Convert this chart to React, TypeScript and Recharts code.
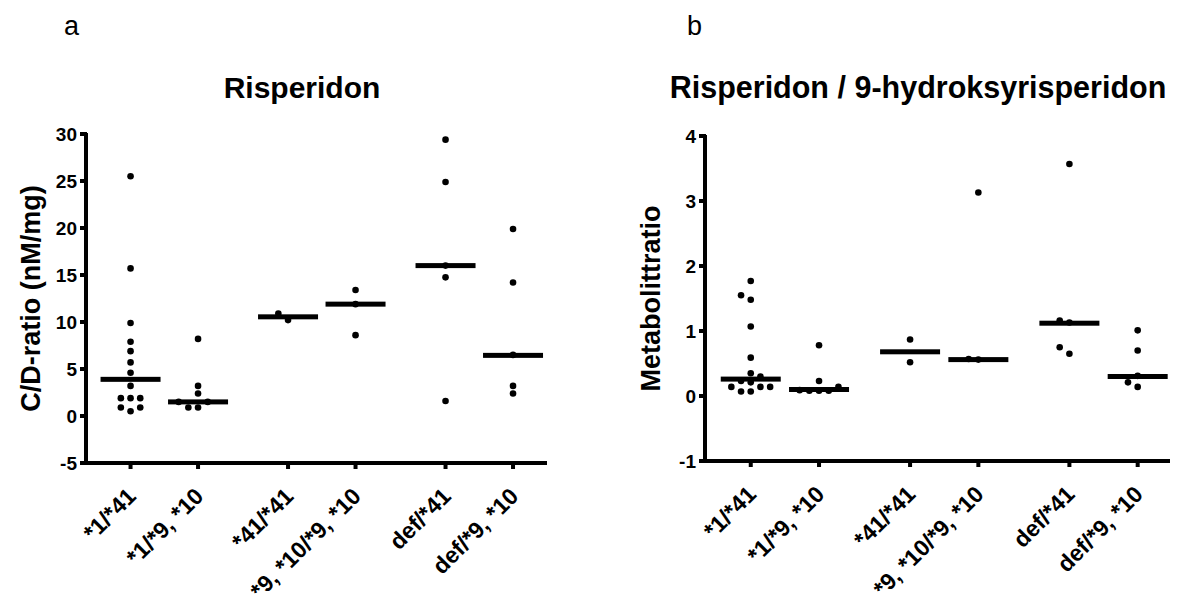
import React from 'react';
import { ScatterChart, Scatter, XAxis, YAxis, ReferenceLine } from 'recharts';

// ---------- data ----------
const groups = ['*1/*41', '*1/*9, *10', '*41/*41', '*9, *10/*9, *10', 'def/*41', 'def/*9, *10'];

// Risperidon C/D-ratio (nM/mg)
const rispG1 = [25.5, 15.7, 9.9, 7.9, 6.9, 5.7, 4.6, 3.2, 1.9, 1.9, 1.9, 0.9, 0.9, 0.5];
const rispG2 = [8.2, 3.2, 2.4, 1.5, 1.5, 0.9, 0.9];
const rispG3 = [10.9, 10.2];
const rispG4 = [13.4, 11.9, 8.6];
const rispG5 = [29.4, 24.9, 16.0, 14.75, 1.6];
const rispG6 = [19.9, 14.2, 6.5, 3.2, 2.4];
const rispMedians = [3.9, 1.5, 10.55, 11.9, 16.0, 6.45];
const rispTicks = [-5, 0, 5, 10, 15, 20, 25, 30];

// Risperidon / 9-hydroksyrisperidon metabolite ratio
const metG1 = [1.77, 1.55, 1.48, 1.07, 0.59, 0.35, 0.30, 0.23, 0.21, 0.14, 0.14, 0.14, 0.07, 0.07];
const metG2 = [0.78, 0.23, 0.14, 0.09, 0.08, 0.08, 0.08];
const metG3 = [0.87, 0.52];
const metG4 = [3.13, 0.57, 0.56];
const metG5 = [3.57, 1.16, 1.13, 0.75, 0.65];
const metG6 = [1.01, 0.70, 0.31, 0.21, 0.14];
const metMedians = [0.26, 0.10, 0.68, 0.56, 1.12, 0.30];
const metTicks = [-1, 0, 1, 2, 3, 4];

// ---------- layout ----------
const FONT = '"Liberation Sans", Arial, Helvetica, sans-serif';
const groupPos = groups.map((_, i) => i + 1 + Math.floor(i / 2) / 3);
const DOT_R = 3.3;
const STEP = 9.7;
const X_ANGLE = -45;
const TICK_SIZE = 6;
const TICK_MARGIN = 2;
const LINE_W = 4;

function swarm(groupsVals: number[][], pxPerX: number, pxPerY: number) {
  const out: { x: number; y: number }[] = [];
  const order = [0, -1, 1, -2, 2, -3, 3];
  groupsVals.forEach((vals, gi) => {
    const placed: { px: number; py: number }[] = [];
    const sorted = [...vals].sort((a, b) => a - b);
    sorted.forEach((v) => {
      const py = v * pxPerY;
      for (const k of order) {
        const px = k * STEP;
        const hit = placed.some((p) => Math.hypot(p.px - px, p.py - py) < DOT_R * 2 + 0.2);
        if (!hit) {
          placed.push({ px, py });
          out.push({ x: groupPos[gi] + px / pxPerX, y: v });
          break;
        }
      }
    });
  });
  return out;
}

const Dot = (p: any) => <circle cx={p.cx} cy={p.cy} r={DOT_R} fill="#000" />;
const MedianBar = (p: any) => <rect x={p.cx - 30} y={p.cy - 2.5} width={60} height={5} fill="#000" />;

const YTick = (p: any) => (
  <g>
    <rect x={p.x + TICK_MARGIN} y={p.y - LINE_W / 2} width={TICK_SIZE + 1} height={LINE_W} fill="#000" />
    <text x={p.x - 1} y={p.y} dy="0.36em" textAnchor="end" fontFamily={FONT} fontWeight="bold" fontSize={19} fill="#000">
      {p.payload.value}
    </text>
  </g>
);

const XTick = (p: any) => {
  const idx = groupPos.findIndex((g) => Math.abs(g - p.payload.value) < 1e-6);
  return (
    <g>
      <rect x={p.x - LINE_W / 2} y={p.y - TICK_MARGIN - TICK_SIZE - 1} width={LINE_W} height={TICK_SIZE + 1} fill="#000" />
      <g transform={`translate(${p.x - 5},${p.y + 15})`}>
        <text x={0} y={0} dy="0.72em" transform={`rotate(${X_ANGLE})`} textAnchor="end" fontFamily={FONT} fontWeight="bold" fontSize={23} fill="#000">
          {idx >= 0 ? groups[idx] : ''}
        </text>
      </g>
    </g>
  );
};

// axis line drawn as a filled rectangle along the reference line's end points
const AxisBar = (p: any) => {
  const x1 = Number(p.x1), x2 = Number(p.x2), y1 = Number(p.y1), y2 = Number(p.y2);
  if (![x1, x2, y1, y2].every((v) => Number.isFinite(v))) return <g />;
  const x = Math.min(x1, x2);
  const y = Math.min(y1, y2);
  const w = Math.abs(x2 - x1);
  const h = Math.abs(y2 - y1);
  if (w < 1) {
    return <rect x={x - LINE_W / 2} y={y - 1} width={LINE_W} height={h + LINE_W / 2 + 1} fill="#000" />;
  }
  return <rect x={x - LINE_W / 2} y={y - LINE_W / 2} width={w + LINE_W / 2} height={LINE_W} fill="#000" />;
};

type PanelProps = {
  left: number;
  axisX: number;
  right: number;
  top: number;
  bottom: number;
  xDomain: [number, number];
  yDomain: [number, number];
  yTicks: number[];
  vals: number[][];
  medians: number[];
  yLabel: string;
  yLabelX: number;
};

function Panel(props: PanelProps) {
  const w = 596;
  const h = 605;
  const yAxisW = 60;
  const xAxisH = 100;
  const localAxis = props.axisX - props.left;
  const localRight = props.right - props.left;
  const margin = {
    top: props.top,
    left: localAxis - yAxisW,
    right: w - localRight,
    bottom: h - props.bottom - xAxisH,
  };
  const pxPerX = (localRight - localAxis) / (props.xDomain[1] - props.xDomain[0]);
  const pxPerY = (props.bottom - props.top) / (props.yDomain[1] - props.yDomain[0]);
  const dots = swarm(props.vals, pxPerX, pxPerY);
  const medData = props.medians.map((m, i) => ({ x: groupPos[i], y: m }));
  const cy = (props.top + props.bottom) / 2;
  return (
    <div style={{ position: 'absolute', left: props.left, top: 0, width: w, height: h }}>
      <ScatterChart width={w} height={h} margin={margin}>
        <XAxis
          type="number"
          dataKey="x"
          domain={props.xDomain}
          allowDataOverflow
          ticks={groupPos}
          interval={0}
          height={xAxisH}
          axisLine={false}
          tickLine={false}
          tickSize={TICK_SIZE}
          tickMargin={TICK_MARGIN}
          tick={<XTick />}
        />
        <YAxis
          type="number"
          dataKey="y"
          domain={props.yDomain}
          allowDataOverflow
          ticks={props.yTicks}
          interval={0}
          width={yAxisW}
          axisLine={false}
          tickLine={false}
          tickSize={TICK_SIZE}
          tickMargin={TICK_MARGIN}
          tick={<YTick />}
        />
        <ReferenceLine x={props.xDomain[0]} stroke="#000" ifOverflow="visible" shape={AxisBar} />
        <ReferenceLine y={props.yDomain[0]} stroke="#000" ifOverflow="visible" shape={AxisBar} />
        <Scatter data={medData} shape={MedianBar} isAnimationActive={false} />
        <Scatter data={dots} shape={Dot} isAnimationActive={false} />
      </ScatterChart>
      <svg width={w} height={h} style={{ position: 'absolute', left: 0, top: 0, pointerEvents: 'none' }}>
        <text
          transform={`translate(${props.yLabelX - props.left},${cy}) rotate(-90)`}
          textAnchor="middle"
          dy="0.36em"
          fontFamily={FONT}
          fontWeight="bold"
          fontSize={27}
          fill="#000"
        >
          {props.yLabel}
        </text>
      </svg>
    </div>
  );
}

export default function App() {
  return (
    <div style={{ position: 'absolute', left: 0, top: 0, width: 1192, height: 605, background: '#fff', fontFamily: FONT }}>
      <Panel
        left={0}
        axisX={86}
        right={547}
        top={134}
        bottom={463}
        xDomain={[0.34, 7.17]}
        yDomain={[-5, 30]}
        yTicks={rispTicks}
        vals={[rispG1, rispG2, rispG3, rispG4, rispG5, rispG6]}
        medians={rispMedians}
        yLabel="C/D-ratio (nM/mg)"
        yLabelX={30}
      />
      <Panel
        left={596}
        axisX={705}
        right={1170}
        top={136}
        bottom={461}
        xDomain={[0.33, 7.14]}
        yDomain={[-1, 4]}
        yTicks={metTicks}
        vals={[metG1, metG2, metG3, metG4, metG5, metG6]}
        medians={metMedians}
        yLabel="Metabolittratio"
        yLabelX={650}
      />
      <svg width={1192} height={605} style={{ position: 'absolute', left: 0, top: 0, pointerEvents: 'none' }}>
        <text x={64} y={35} fontFamily={FONT} fontSize={27} fill="#000">a</text>
        <text x={687} y={35} fontFamily={FONT} fontSize={27} fill="#000">b</text>
        <text x={302} y={98} textAnchor="middle" fontFamily={FONT} fontWeight="bold" fontSize={30} fill="#000">Risperidon</text>
        <text x={918} y={98} textAnchor="middle" fontFamily={FONT} fontWeight="bold" fontSize={30.5} fill="#000">Risperidon / 9-hydroksyrisperidon</text>
      </svg>
    </div>
  );
}
